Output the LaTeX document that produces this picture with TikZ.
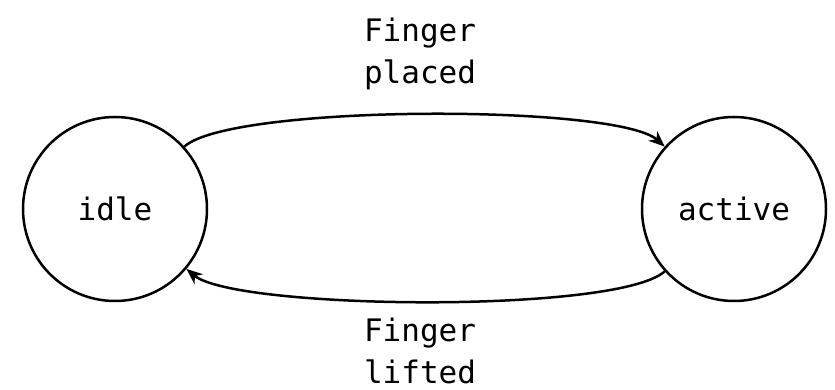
\documentclass[tikz,border=0pt]{standalone}
\usepackage{fontspec}
\setmonofont{DejaVu Sans Mono}
\usetikzlibrary{arrows.meta}
\tikzset{
  state/.style={circle, draw, line width=2.5pt, minimum size=184pt, inner sep=0pt,
    font=\fontsize{31}{42}\selectfont\ttfamily},
  edgelabel/.style={align=center, font=\fontsize{31}{42}\selectfont\ttfamily},
  trans/.style={line width=2.5pt, -{Stealth[length=16pt, width=13pt, inset=5pt]}}
}
\begin{document}
\begin{tikzpicture}[x=1pt,y=1pt]
\useasboundingbox (0,0) rectangle (835,390);
\node[state] (idle) at (115,181) {idle};
\node[state] (active) at (734,181) {active};
\draw[trans] (idle) to[out=42,in=138,looseness=0.34] (active);
\draw[trans] (active) to[out=-138,in=-40,looseness=0.34] (idle);
\node[edgelabel] (top) at (420,336) {Finger\\placed};
\node[edgelabel] (bot) at (420,39) {Finger\\lifted};
\end{tikzpicture}
\end{document}
